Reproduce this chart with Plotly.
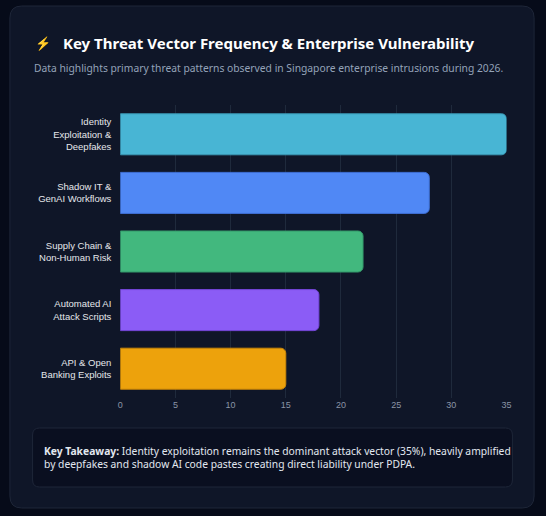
import plotly.graph_objects as go

categories = ["Identity<br>Exploitation &<br>Deepfakes", "Shadow IT &<br>GenAI Workflows",
              "Supply Chain &<br>Non-Human Risk", "Automated AI<br>Attack Scripts",
              "API & Open<br>Banking Exploits"]
values = [35, 28, 22, 18, 15]
colors = ["#48b5d4", "#5088f5", "#42b87e", "#8b5cf6", "#eda20c"]
borders = ["#3a98b4", "#3f70d6", "#33996a", "#7446d8", "#c98608"]
tick_vals = [0, 5, 10, 15, 20, 25, 30, 35]

W, H = 546, 516

def rr(x0, y0, x1, y1, r):
    def p(x, y):
        return f"{x / W:.5f},{1 - y / H:.5f}"
    return (f"M {p(x0 + r, y0)} L {p(x1 - r, y0)} Q {p(x1, y0)} {p(x1, y0 + r)} "
            f"L {p(x1, y1 - r)} Q {p(x1, y1)} {p(x1 - r, y1)} L {p(x0 + r, y1)} "
            f"Q {p(x0, y1)} {p(x0, y1 - r)} L {p(x0, y0 + r)} Q {p(x0, y0)} {p(x0 + r, y0)} Z")

fig = go.Figure(go.Bar(
    x=values, y=categories, orientation="h", width=0.7,
    marker=dict(color=colors, line=dict(color=borders, width=1), cornerradius=5),
    hoverinfo="skip",
))

fig.update_layout(
    width=W, height=H, margin=dict(l=0, r=0, t=0, b=0),
    paper_bgcolor="#060b19", plot_bgcolor="rgba(0,0,0,0)",
    showlegend=False, bargap=0.3,
    xaxis=dict(domain=[119 / W, 511 / W], range=[0, 35], tickvals=tick_vals,
               showgrid=True, gridcolor="#1f2a3c", gridwidth=1, zeroline=False,
               tickfont=dict(family="Liberation Sans", size=9, color="#8a94a6"),
               showline=False, ticks="", fixedrange=True),
    yaxis=dict(domain=[1 - 398 / H, 1 - 105 / H], autorange="reversed",
               tickfont=dict(family="Liberation Sans", size=9.5, color="#e5e7eb"),
               showgrid=False, ticks="outside", ticklen=6, tickcolor="rgba(0,0,0,0)",
               fixedrange=True),
    shapes=[
        dict(type="path", xref="paper", yref="paper", path=rr(7, 6, 539, 508, 12),
             fillcolor="#0f1628", line=dict(color="#1e2638", width=1), layer="below"),
        dict(type="path", xref="paper", yref="paper", path=rr(30, 428, 517, 487, 7),
             fillcolor="#0a0f20", line=dict(color="#1e2638", width=1), layer="below"),
    ],
    annotations=[
        dict(x=41 / W, y=1 - 43 / H, xref="paper", yref="paper", text="⚡", showarrow=False,
             xanchor="center", yanchor="middle", font=dict(size=13, color="#f97316")),
        dict(x=59 / W, y=1 - 43 / H, xref="paper", yref="paper",
             text="<b>Key Threat Vector Frequency & Enterprise Vulnerability</b>", showarrow=False,
             xanchor="left", yanchor="middle", font=dict(family="Noto Sans", size=15, color="#ffffff")),
        dict(x=29 / W, y=1 - 68 / H, xref="paper", yref="paper",
             text="Data highlights primary threat patterns observed in Singapore enterprise intrusions during 2026.",
             showarrow=False, xanchor="left", yanchor="middle",
             font=dict(family="Noto Sans", size=10.3, color="#94a3b8")),
        dict(x=40 / W, y=1 - 457 / H, xref="paper", yref="paper",
             text="<b>Key Takeaway:</b> Identity exploitation remains the dominant attack vector (35%), heavily amplified<br>by deepfakes and shadow AI code pastes creating direct liability under PDPA.",
             showarrow=False, xanchor="left", yanchor="middle", align="left",
             font=dict(family="Noto Sans", size=10.3, color="#e2e8f0")),
    ],
)

fig.write_html("out.html", config={"displayModeBar": False})

with open("out.html", encoding="utf-8") as f:
    html = f.read()
html = html.replace("<head>", "<head><style>html,body{margin:0;padding:0;overflow:hidden;background:#060b19;}</style>", 1)
with open("out.html", "w", encoding="utf-8") as f:
    f.write(html)
